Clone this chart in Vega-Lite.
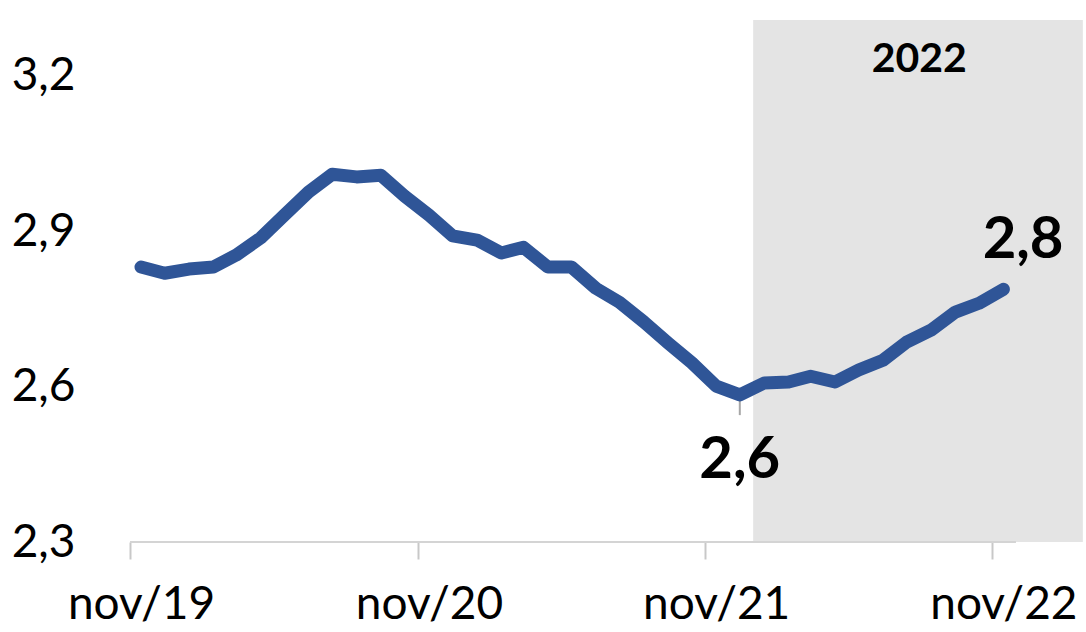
{
  "$schema": "https://vega.github.io/schema/vega-lite/v6.json",
  "width": 956,
  "height": 522,
  "autosize": {"type": "none"},
  "padding": {"left": 130, "top": 20, "right": 0, "bottom": 90},
  "background": "white",
  "config": {"view": {"stroke": null}, "font": "Lato"},
  "datasets": {
    "series": [
      {"date": "2019-11-15", "value": 2.831},
      {"date": "2019-12-15", "value": 2.819},
      {"date": "2020-01-15", "value": 2.827},
      {"date": "2020-02-15", "value": 2.831},
      {"date": "2020-03-15", "value": 2.854},
      {"date": "2020-04-15", "value": 2.887},
      {"date": "2020-05-15", "value": 2.931},
      {"date": "2020-06-15", "value": 2.976},
      {"date": "2020-07-15", "value": 3.010},
      {"date": "2020-08-15", "value": 3.005},
      {"date": "2020-09-15", "value": 3.008},
      {"date": "2020-10-15", "value": 2.968},
      {"date": "2020-11-15", "value": 2.931},
      {"date": "2020-12-15", "value": 2.891},
      {"date": "2021-01-15", "value": 2.883},
      {"date": "2021-02-15", "value": 2.858},
      {"date": "2021-03-15", "value": 2.869},
      {"date": "2021-04-15", "value": 2.831},
      {"date": "2021-05-15", "value": 2.831},
      {"date": "2021-06-15", "value": 2.790},
      {"date": "2021-07-15", "value": 2.763},
      {"date": "2021-08-15", "value": 2.725},
      {"date": "2021-09-15", "value": 2.684},
      {"date": "2021-10-15", "value": 2.646},
      {"date": "2021-11-15", "value": 2.601},
      {"date": "2021-12-15", "value": 2.584},
      {"date": "2022-01-15", "value": 2.607},
      {"date": "2022-02-15", "value": 2.609},
      {"date": "2022-03-15", "value": 2.620},
      {"date": "2022-04-15", "value": 2.609},
      {"date": "2022-05-15", "value": 2.632},
      {"date": "2022-06-15", "value": 2.651},
      {"date": "2022-07-15", "value": 2.686},
      {"date": "2022-08-15", "value": 2.709},
      {"date": "2022-09-15", "value": 2.744},
      {"date": "2022-10-15", "value": 2.761},
      {"date": "2022-11-15", "value": 2.788}
    ],
    "band": [{"start": "2022-01-01", "end": "2023-02-24", "low": 2.3, "high": 3.308}],
    "axisline": [{"start": "2019-11-01", "end": "2022-12-01", "value": 2.3}],
    "leader": [{"date": "2021-12-15", "from": 2.545, "to": 2.58}],
    "labels": [
      {"date": "2021-12-15", "value": 2.456, "text": "2,6"},
      {"date": "2022-12-10", "value": 2.881, "text": "2,8"}
    ],
    "year": [{"date": "2022-07-31", "value": 3.23, "text": "2022"}]
  },
  "layer": [
    {
      "data": {"name": "band"},
      "mark": {"type": "rect", "color": "#E4E4E4"},
      "encoding": {
        "x": {"field": "start", "type": "temporal",
              "scale": {"type": "utc", "domain": [{"year": 2019, "month": 11, "date": 1, "utc": true}, {"year": 2023, "month": 2, "date": 28, "utc": true}]},
              "axis": {
                "title": null,
                "domain": false,
                "grid": false,
                "values": [
                  {"year": 2019, "month": 11, "date": 1, "utc": true},
                  {"year": 2020, "month": 11, "date": 1, "utc": true},
                  {"year": 2021, "month": 11, "date": 1, "utc": true},
                  {"year": 2022, "month": 11, "date": 1, "utc": true}
                ],
                "labelExpr": "'nov/' + utcFormat(datum.value, '%y')",
                "labelFont": "Lato",
                "labelFontSize": 46,
                "labelColor": "#000000",
                "labelOffset": 11,
                "labelPadding": 23,
                "labelBaseline": "top",
                "labelFlush": false,
                "labelOverlap": false,
                "tickSize": 17,
                "tickColor": "#C8C8C8",
                "tickWidth": 2
              }},
        "x2": {"field": "end"},
        "y": {"field": "low", "type": "quantitative",
              "scale": {"domain": [2.3, 3.308], "nice": false, "zero": false},
              "axis": {
                "title": null,
                "domain": false,
                "ticks": false,
                "grid": false,
                "values": [2.3, 2.6, 2.9, 3.2],
                "labelExpr": "replace(format(datum.value, '.1f'), '.', ',')",
                "labelFont": "Lato",
                "labelFontSize": 46,
                "labelColor": "#000000",
                "labelPadding": 55,
                "labelFlush": false,
                "labelOverlap": false
              }},
        "y2": {"field": "high"}
      }
    },
    {
      "data": {"name": "axisline"},
      "mark": {"type": "rule", "color": "#D4D4D4", "strokeWidth": 2},
      "encoding": {
        "x": {"field": "start", "type": "temporal"},
        "x2": {"field": "end"},
        "y": {"field": "value", "type": "quantitative"}
      }
    },
    {
      "data": {"name": "leader"},
      "mark": {"type": "rule", "color": "#A6A6A6", "strokeWidth": 2},
      "encoding": {
        "x": {"field": "date", "type": "temporal"},
        "y": {"field": "from", "type": "quantitative"},
        "y2": {"field": "to"}
      }
    },
    {
      "data": {"name": "series"},
      "mark": {"type": "line", "color": "#2F5597", "strokeWidth": 13, "strokeCap": "round", "strokeJoin": "round"},
      "encoding": {
        "x": {"field": "date", "type": "temporal"},
        "y": {"field": "value", "type": "quantitative"}
      }
    },
    {
      "data": {"name": "labels"},
      "mark": {"type": "text", "font": "Lato", "fontSize": 58, "fontWeight": "bold", "color": "#000000", "align": "center", "baseline": "middle"},
      "encoding": {
        "x": {"field": "date", "type": "temporal"},
        "y": {"field": "value", "type": "quantitative"},
        "text": {"field": "text"}
      }
    },
    {
      "data": {"name": "year"},
      "mark": {"type": "text", "font": "Lato", "fontSize": 41, "fontWeight": "bold", "color": "#000000", "align": "center", "baseline": "middle"},
      "encoding": {
        "x": {"field": "date", "type": "temporal"},
        "y": {"field": "value", "type": "quantitative"},
        "text": {"field": "text"}
      }
    }
  ]
}
